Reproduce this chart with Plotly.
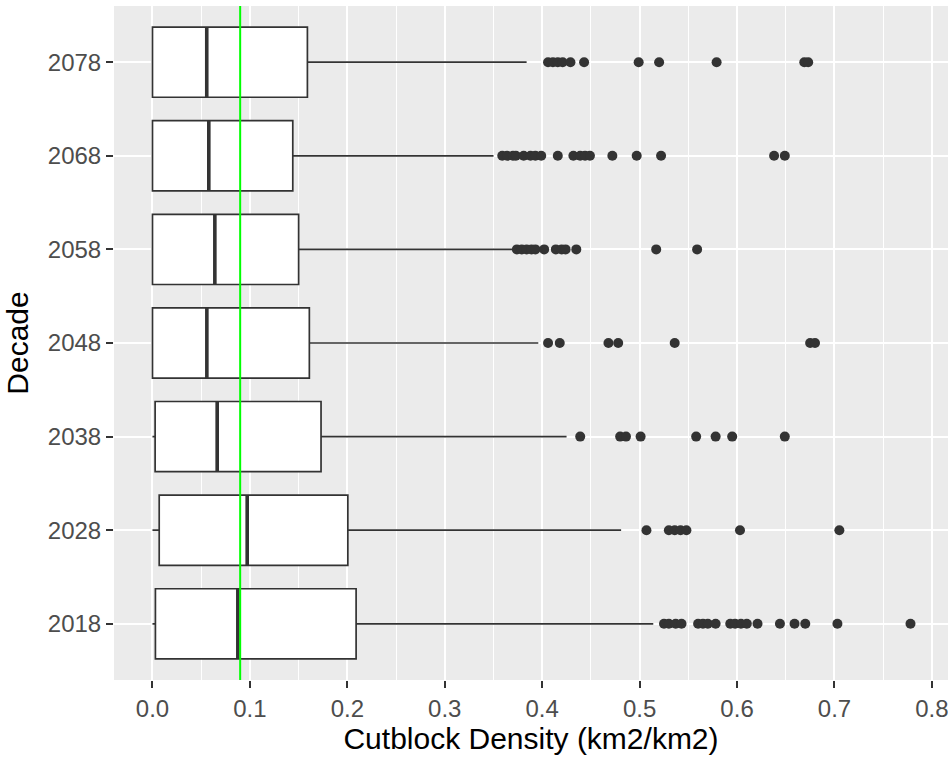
import plotly.graph_objects as go

decades = ["2018", "2028", "2038", "2048", "2058", "2068", "2078"]
lower = [0.0, 0.0, 0.0, 0.0, 0.0, 0.0, 0.0]
q1 = [0.003, 0.0069, 0.0027, 0.0, 0.0, 0.0, 0.0]
median = [0.0876, 0.0972, 0.0664, 0.0558, 0.0640, 0.0578, 0.0557]
q3 = [0.209, 0.2005, 0.173, 0.161, 0.150, 0.144, 0.159]
upper = [0.514, 0.481, 0.425, 0.396, 0.372, 0.350, 0.384]

outliers = {
    "2018": [0.525, 0.530, 0.537, 0.543, 0.560, 0.565, 0.570, 0.578, 0.593, 0.598,
             0.604, 0.610, 0.621, 0.644, 0.659, 0.670, 0.703, 0.778],
    "2028": [0.507, 0.530, 0.536, 0.542, 0.548, 0.603, 0.705],
    "2038": [0.439, 0.480, 0.486, 0.501, 0.558, 0.578, 0.595, 0.649],
    "2048": [0.406, 0.418, 0.468, 0.478, 0.536, 0.675, 0.680],
    "2058": [0.374, 0.379, 0.384, 0.389, 0.393, 0.402, 0.414, 0.420, 0.424, 0.435,
             0.517, 0.559],
    "2068": [0.359, 0.364, 0.370, 0.373, 0.381, 0.388, 0.393, 0.399, 0.416, 0.432,
             0.439, 0.444, 0.449, 0.472, 0.497, 0.522, 0.638, 0.649],
    "2078": [0.406, 0.411, 0.416, 0.421, 0.429, 0.443, 0.499, 0.520, 0.579, 0.669,
             0.673],
}

reference_line = 0.090
x_ticks = [0.0, 0.1, 0.2, 0.3, 0.4, 0.5, 0.6, 0.7, 0.8]
x_tick_labels = ["0.0", "0.1", "0.2", "0.3", "0.4", "0.5", "0.6", "0.7", "0.8"]

BOX_W = 0.75
DARK = "#333333"
FONT = "Liberation Sans, Arial, sans-serif"

fig = go.Figure()

for i, d in enumerate(decades):
    fig.add_trace(go.Box(
        orientation="h",
        y=[i],
        q1=[q1[i]], median=[median[i]], q3=[q3[i]],
        lowerfence=[lower[i]], upperfence=[upper[i]],
        width=BOX_W,
        fillcolor="white",
        line=dict(color=DARK, width=1.7),
        whiskerwidth=0,
        boxpoints=False,
        showlegend=False,
        name=d,
    ))

# thicker median segments (ggplot fatten)
mx, my = [], []
for i, m in enumerate(median):
    mx += [m, m, None]
    my += [i - BOX_W / 2, i + BOX_W / 2, None]
fig.add_trace(go.Scatter(x=mx, y=my, mode="lines",
                         line=dict(color=DARK, width=3.6),
                         showlegend=False, hoverinfo="skip"))

# outliers
ox, oy = [], []
for i, d in enumerate(decades):
    ox += outliers[d]
    oy += [i] * len(outliers[d])
fig.add_trace(go.Scatter(x=ox, y=oy, mode="markers",
                         marker=dict(color=DARK, size=10, line=dict(width=0)),
                         showlegend=False))

fig.add_shape(type="line", xref="x", yref="paper",
              x0=reference_line, x1=reference_line, y0=0, y1=1,
              line=dict(color="#00FF00", width=2), layer="above")

fig.update_layout(
    width=948, height=759,
    margin=dict(l=114, r=0, t=6, b=79),
    paper_bgcolor="white",
    plot_bgcolor="#EBEBEB",
    boxmode="overlay",
    font=dict(family=FONT, color="#4D4D4D", size=24),
    xaxis=dict(
        range=[-0.0395, 0.8165],
        tickvals=x_ticks, ticktext=x_tick_labels,
        ticklabeloverflow="allow",
        showgrid=True, gridcolor="white", gridwidth=1.5,
        minor=dict(dtick=0.05, tick0=0.0, showgrid=True, gridcolor="white", gridwidth=0.7),
        ticks="outside", ticklen=7, tickwidth=1.5, tickcolor=DARK,
        tickfont=dict(size=24, color="#4D4D4D", family=FONT),
        zeroline=False, showline=False,
        title=dict(text="Cutblock Density (km2/km2)", standoff=6,
                   font=dict(size=30, color="black", family=FONT)),
    ),
    yaxis=dict(
        range=[-0.6, 6.6],
        tickvals=list(range(len(decades))), ticktext=decades,
        showgrid=True, gridcolor="white", gridwidth=1.5,
        ticks="outside", ticklen=7, tickwidth=1.5, tickcolor=DARK,
        tickfont=dict(size=24, color="#4D4D4D", family=FONT),
        zeroline=False, showline=False,
        title=dict(text="Decade", standoff=10,
                   font=dict(size=30, color="black", family=FONT)),
    ),
)

fig.write_html("out.html")
